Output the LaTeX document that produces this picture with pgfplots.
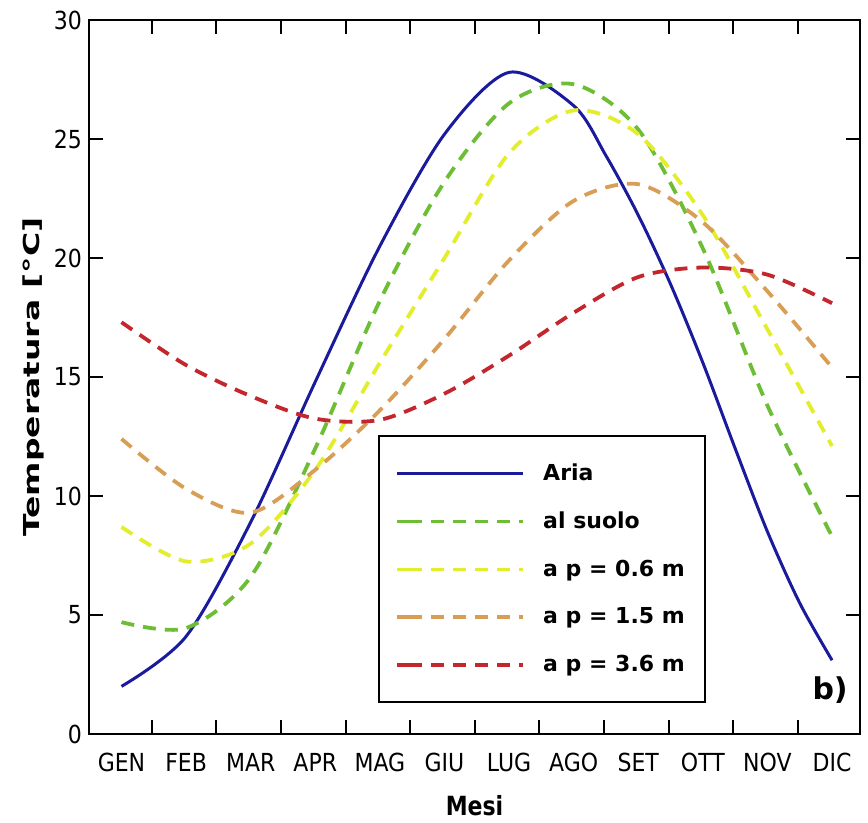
\documentclass[border=0pt]{standalone}
\usepackage{pgfplots}
\pgfplotsset{compat=1.18}
\usepackage{fontspec}
\setmainfont{DejaVu Sans}
\setsansfont{DejaVu Sans}
\definecolor{aria}{HTML}{1A1A9C}
\definecolor{suolo}{HTML}{6DBE35}
\definecolor{psei}{HTML}{E2EE2C}
\definecolor{pquindici}{HTML}{D89E55}
\definecolor{ptrentasei}{HTML}{C4262E}
\tikzset{dashcurve/.style={line width=1.9pt, dash pattern=on 6.5pt off 4.5pt}}
% taller glyphs, as in the original
\newcommand{\tall}[1]{\scalebox{1}[1.13]{#1}}
\begin{document}
\begin{tikzpicture}
\begin{axis}[
  scale only axis, width=385.5pt, height=357pt,
  xmin=0.497, xmax=12.433, ymin=0, ymax=30,
  axis line style={line width=1.4pt},
  tick align=inside, tick pos=both,
  major tick length=7pt,
  every tick/.style={black, line width=1pt},
  xtick={1.47,2.47,3.47,4.47,5.47,6.47,7.47,8.47,9.47,10.47,11.47},
  xticklabels={},
  extra x ticks={1,2,3,4,5,6,7,8,9,10,11,12},
  extra x tick labels={\tall{GEN},\tall{FEB},\tall{MAR},\tall{APR},\tall{MAG},\tall{GIU},\tall{LUG},\tall{AGO},\tall{SET},\tall{OTT},\tall{NOV},\tall{DIC}},
  extra x tick style={major tick length=0pt},
  ytick={0,5,10,15,20,25,30},
  yticklabel={\tall{\pgfmathprintnumber{\tick}}},
  /pgf/number format/assume math mode=true,
  tick label style={font=\fontsize{11}{13}\selectfont},
  xticklabel style={yshift=-6pt},
  xlabel={\scalebox{1}[1.2]{\textbf{Mesi}}},
  ylabel={\scalebox{1.5}[1]{\textbf{Temperatura [°C]}}},
  label style={font=\fontsize{11}{13}\selectfont},
  xlabel style={at={(axis description cs:0.5,-0.1)}, anchor=center},
  ylabel style={at={(axis description cs:-0.0726,0.5)}, anchor=center},
  legend style={at={(0.8,0.043)}, anchor=south east, draw=black, line width=1pt,
    font=\fontsize{11}{13}\selectfont\bfseries, inner xsep=8pt, inner ysep=12pt,
    row sep=10.2pt, cells={anchor=west}},
  legend cell align=left,
  legend image code/.code={\path (-6pt,0pt) -- (0pt,0pt); \draw[#1] (0pt,0pt) -- (57pt,0pt);},
  /tikz/every odd column/.append style={column sep=7pt},
]
\addplot[aria, line width=1.5pt, smooth] coordinates {
 (1,2.0) (2,4.1) (3,8.9) (4,14.8) (5,20.5) (6,25.2) (7,27.8) (8,26.4) (8.5,24.3) (9,21.8) (9.5,18.9) (10,15.6) (10.5,12.0) (11,8.5) (11.5,5.5) (12,3.1)};
\addplot[suolo, dashcurve, smooth] coordinates {
 (1,4.7) (2,4.45) (3,6.6) (4,12.0) (5,18.2) (6,23.2) (7,26.5) (8,27.3) (9,25.4) (10,20.4) (11,13.8) (12,8.3)};
\addplot[psei, dashcurve, smooth] coordinates {
 (1,8.7) (2,7.25) (3,8.0) (4,11.1) (5,15.6) (6,20.0) (7,24.4) (8,26.2) (9,25.2) (10,21.8) (11,17.0) (12,12.1)};
\addplot[pquindici, dashcurve, smooth] coordinates {
 (1,12.4) (2,10.3) (3,9.3) (4,11.1) (5,13.6) (6,16.6) (7,19.9) (8,22.4) (9,23.1) (10,21.5) (11,18.6) (12,15.4)};
\addplot[ptrentasei, dashcurve, smooth] coordinates {
 (1,17.3) (2,15.5) (3,14.2) (4,13.25) (5,13.2) (6,14.3) (7,15.9) (8,17.7) (9,19.2) (10,19.6) (11,19.3) (12,18.1)};
\legend{Aria,al suolo,a p = 0.6 m,a p = 1.5 m,a p = 3.6 m}
\node[font=\fontsize{15}{17}\selectfont\bfseries] at (axis cs:11.97,1.85) {b)};
\end{axis}
\pgfresetboundingbox
\path[use as bounding box] ([xshift=-44.5pt,yshift=-44.5pt]current axis.south west) rectangle ([xshift=4pt,yshift=10pt]current axis.north east);
\end{tikzpicture}
\end{document}
